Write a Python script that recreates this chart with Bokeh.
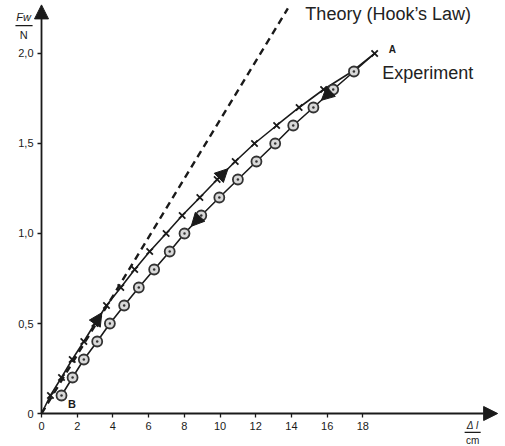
from bokeh.plotting import figure
from bokeh.models import Range1d, FixedTicker, Arrow, NormalHead, Label, LinearAxis
from bokeh.embed import file_html
from bokeh.resources import INLINE

# ---- data ----
load_x = [0.0, 0.5, 1.12, 1.72, 2.37, 2.99, 3.64, 4.44, 5.22, 6.06, 6.98,
          7.88, 8.87, 9.84, 10.85, 11.93, 13.17, 14.43, 15.8, 17.4, 18.66]
load_y = [0.0, 0.1, 0.2, 0.3, 0.4, 0.5, 0.6, 0.7, 0.8, 0.9, 1.0,
          1.1, 1.2, 1.3, 1.4, 1.5, 1.6, 1.7, 1.8, 1.9, 2.0]
unload_x = [17.5, 16.34, 15.23, 14.1, 13.09, 12.04, 11.0, 9.96, 8.95, 8.01,
            7.18, 6.31, 5.45, 4.63, 3.83, 3.12, 2.37, 1.74, 1.12]
unload_y = [1.9, 1.8, 1.7, 1.6, 1.5, 1.4, 1.3, 1.2, 1.1, 1.0,
            0.9, 0.8, 0.7, 0.6, 0.5, 0.4, 0.3, 0.2, 0.1]
theory_x = [0.0, 13.8]
theory_y = [0.0, 2.25]
x_ticks = [0, 2, 4, 6, 8, 10, 12, 14, 16, 18]
y_ticks = [0, 0.5, 1.0, 1.5, 2.0]
y_tick_labels = ["0", "0,5", "1,0", "1,5", "2,0"]

FONT = "Liberation Sans"
INK = "#1a1a1a"

p = figure(width=505, height=446, output_backend="svg", toolbar_location=None,
           x_range=Range1d(-2.297, 25.99), y_range=Range1d(-0.1833, 2.2944),
           x_axis_location=None, y_axis_location=None,
           min_border=0)
p.outline_line_color = None
p.xgrid.visible = False
p.ygrid.visible = False
p.background_fill_color = "white"

xax = LinearAxis(fixed_location=0, ticker=FixedTicker(ticks=x_ticks))
yax = LinearAxis(fixed_location=0, ticker=FixedTicker(ticks=y_ticks))
yax.major_label_overrides = {t: s for t, s in zip(y_ticks, y_tick_labels)}
for ax in (xax, yax):
    ax.axis_line_color = None
    ax.major_tick_line_color = INK
    ax.major_tick_line_width = 1.3
    ax.minor_tick_line_color = None
    ax.major_tick_in = 0
    ax.major_tick_out = 4
    ax.major_label_text_font = FONT
    ax.major_label_text_font_size = "11px"
    ax.major_label_text_color = INK
    ax.major_label_standoff = 4
p.add_layout(xax, "below")
p.add_layout(yax, "left")

# axes with arrows
p.add_layout(Arrow(end=NormalHead(size=14, fill_color=INK, line_color=INK),
                   x_start=0, y_start=0, x_end=0, y_end=2.27,
                   line_color=INK, line_width=1.8))
p.add_layout(Arrow(end=NormalHead(size=14, fill_color=INK, line_color=INK),
                   x_start=0, y_start=0, x_end=25.55, y_end=0,
                   line_color=INK, line_width=1.8))

# theory
p.line(theory_x, theory_y, line_color=INK, line_width=2.4, line_dash="7 5")

# experiment curves
p.line(load_x, load_y, line_color=INK, line_width=1.6)
p.line([load_x[-1]] + unload_x, [load_y[-1]] + unload_y, line_color=INK, line_width=1.6)
p.scatter(load_x[1:], load_y[1:], marker="x", size=9, line_color=INK, line_width=1.8)
p.scatter(unload_x, unload_y, marker="circle_dot", size=10, line_color="#333333",
          fill_color="#d8d8d8", line_width=1.8)

# direction arrowheads on the curves
def head_on(xs, ys, i, frac=0.75):
    x0, y0, x1, y1 = xs[i], ys[i], xs[i + 1], ys[i + 1]
    xe, ye = x0 + (x1 - x0) * frac, y0 + (y1 - y0) * frac
    p.add_layout(Arrow(end=NormalHead(size=13, fill_color=INK, line_color=INK),
                       x_start=x0, y_start=y0, x_end=xe, y_end=ye,
                       line_alpha=0))

head_on(load_x, load_y, 5, 0.6)
head_on(load_x, load_y, 13, 0.6)
head_on(unload_x, unload_y, 8, 0.6)
head_on(unload_x, unload_y, 1, 0.6)

# texts
def lab(x, y, t, size, style="normal", align="center", base="middle", color=INK):
    p.add_layout(Label(x=x, y=y, text=t, text_font=FONT, text_font_size=size,
                       text_font_style=style, text_align=align,
                       text_baseline=base, text_color=color))

lab(14.78, 2.222, "Theory (Hook\u2019s Law)", "18px", align="left", color="#222222")
lab(19.09, 1.894, "Experiment", "18px", align="left", color="#222222")
lab(19.65, 2.02, "A", "10px", style="bold")
lab(1.7, 0.055, "B", "11px", style="bold")

# y-axis quantity label Fw / N
lab(-1.0, 2.20, "Fw", "11px", style="italic")
lab(-1.0, 2.105, "N", "11px")
p.add_layout(Arrow(end=None, x_start=-1.46, y_start=2.155, x_end=-0.5, y_end=2.155,
                   line_color=INK, line_width=1.2))

# x-axis quantity label Δl / cm
lab(24.15, -0.067, "\u0394 l", "10px", style="italic")
lab(24.15, -0.150, "cm", "10px")
p.add_layout(Arrow(end=None, x_start=23.7, y_start=-0.105, x_end=24.6, y_end=-0.105,
                   line_color=INK, line_width=1.2))

open("out.html", "w").write(file_html(p, INLINE))
